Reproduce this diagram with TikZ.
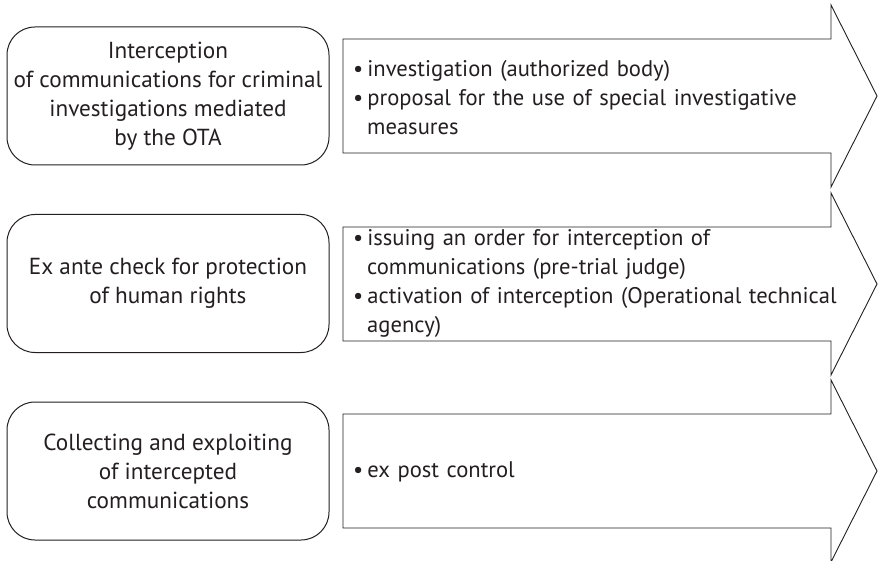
\documentclass[tikz,border=0pt]{standalone}
\usepackage{fontspec}
\setmainfont{PT Sans}
\usepackage{tikz}
\usetikzlibrary{positioning}
\definecolor{inkgray}{HTML}{231F20}

\newcommand{\bitem}{\textbullet\hspace{4pt}}
\newcommand{\bcont}{\hspace*{14pt}}

\begin{document}
\begin{tikzpicture}[x=1pt,y=-1pt,
    stagebox/.style={draw=inkgray, line width=1pt, rounded corners=28pt, minimum width=322pt, minimum height=138pt, align=center, inner sep=0pt, font=\fontsize{23.2}{29}\selectfont},
    steptext/.style={anchor=west, align=left, inner sep=0pt, text width=490pt, font=\fontsize{22.6}{29}\selectfont},
    stagearrow/.style={draw=inkgray, line width=0.9pt}]
  \useasboundingbox (0,0) rectangle (878,561);
  \color{inkgray}

  % stage boxes on the left
  \node[stagebox] (intercept) at (168,96) {Interception\\of communications for criminal\\investigations mediated\\by the OTA};
  \node[stagebox] (exante) at (168,283.5) {Ex ante check for protection\\of human rights};
  \node[stagebox] (collect) at (168,471) {Collecting and exploiting\\of intercepted\\communications};

  % arrow outlines
  \foreach \yc in {96,284,471}
    \draw[stagearrow] (343,\yc-57) -- (831,\yc-57) -- (831,\yc-91) -- (877,\yc) -- (831,\yc+91) -- (831,\yc+57) -- (343,\yc+57) -- cycle;

  % steps inside the arrows
  \node[steptext] (investigation) at (353,98) {\bitem investigation (authorized body)\\\bitem proposal for the use of special investigative\\\bcont measures};
  \node[steptext] (order) at (353,283.5) {\bitem issuing an order for interception of\\\bcont communications (pre-trial judge)\\\bitem activation of interception (Operational technical\\\bcont agency)};
  \node[steptext] (expost) at (353,472) {\bitem ex post control};
\end{tikzpicture}
\end{document}
